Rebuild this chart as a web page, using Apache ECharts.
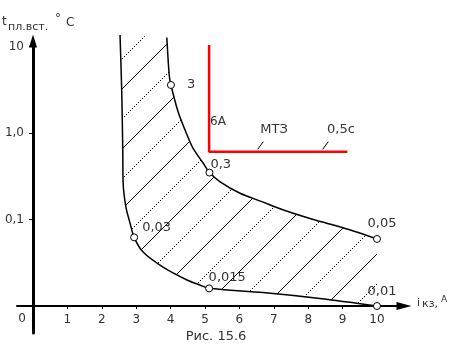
<!DOCTYPE html>
<html><head><meta charset="utf-8">
<script src="https://cdn.jsdelivr.net/npm/echarts@6/dist/echarts.min.js"></script>
<style>html,body{margin:0;padding:0;background:#fff}#c{width:459px;height:348px}</style>
</head><body><div id="c"></div>
<script>
// ---- data ----
const xTickValues = [1, 2, 3, 4, 5, 6, 7, 8, 9, 10];
const yTickValues = [0.1, 1, 10];
const yTickLabels = ['0,1', '1,0', '10'];

// left / lower boundary of the band (from top down to the right end)
const leftX = [2.53, 2.58, 2.61, 2.62, 2.70, 2.82, 2.94, 3.20, 3.78, 4.48, 4.85, 5.12, 6.69, 8.34, 10.0];
const leftY = [13.6, 2.98, 0.60, 0.264, 0.140, 0.0912, 0.0622, 0.0421, 0.0282, 0.0200, 0.0175, 0.0160, 0.0143, 0.0122, 0.01];

// right / upper boundary of the band
const rightX = [3.89, 3.96, 4.01, 4.22, 4.48, 4.65, 4.95, 5.13, 5.44, 6.02, 6.65, 7.28, 8.05, 8.73, 9.31, 10.0];
const rightY = [12.7, 4.69, 3.59, 1.75, 0.949, 0.671, 0.447, 0.349, 0.273, 0.201, 0.161, 0.129, 0.103, 0.0863, 0.0736, 0.0596];

// marked points and their texts
const pointX = [4.01, 5.13, 10.0, 2.94, 5.12, 10.0];
const pointY = [3.59, 0.349, 0.0596, 0.0622, 0.0160, 0.01];
const pointLabels = ['3', '0,3', '0,05', '0,03', '0,015', '0,01'];

// МТЗ characteristic (red)
const mtzX = [5.12, 5.12, 9.14];
const mtzY = [10.4, 0.608, 0.608];

// ---- presentation ----
const FONT = 'DejaVu Sans';
const TXT = '#333';
const labelOffsets = [[12, 0], [-3, -7.5], [-13.5, -15], [4, -10], [-4.5, -11], [-13.5, -14]];

function pairs(xs, ys) { return xs.map((x, i) => [x, ys[i]]); }

function makeHatch() {
  const P = 60;
  const c = document.createElement('canvas');
  c.width = P; c.height = P;
  const g = c.getContext('2d');
  g.fillStyle = '#000';
  for (let i = 0; i < P; i++) {
    const ys = (((30 - i) % P) + P) % P;   // solid diagonal
    g.fillRect(i, ys, 1, 1);
    if (i % 2 === 0) {                      // dotted diagonal
      const yd = (((P - i) % P) + P) % P;
      g.fillRect(i, yd, 1, 1);
    }
  }
  return c;
}
const hatch = makeHatch();

function txt(text, x, y, size, align, extra) {
  return Object.assign({
    type: 'text', x: x, y: y, silent: true,
    style: { text: text, font: size + 'px "' + FONT + '"', fill: TXT,
             align: align || 'left', textAlign: align || 'left',
             verticalAlign: 'middle', textVerticalAlign: 'middle' }
  }, extra || {});
}

const chart = echarts.init(document.getElementById('c'), null, { renderer: 'canvas' });
chart.setOption({
  animation: false,
  backgroundColor: '#fff',
  grid: { left: 17, right: 55, top: 41, bottom: 15, containLabel: false, outerBoundsMode: 'none' },
  xAxis: {
    type: 'value', min: -0.465, max: 10.785, offset: -27,
    axisLine: { show: true, onZero: false, symbol: ['none', 'triangle'], symbolSize: [8, 15],
                lineStyle: { color: '#000', width: 2 } },
    axisTick: { show: true, length: 3, customValues: xTickValues, lineStyle: { color: '#000', width: 1 } },
    axisLabel: { show: true, customValues: xTickValues, margin: 8, fontFamily: FONT, fontSize: 12, color: TXT },
    splitLine: { show: false }
  },
  yAxis: {
    type: 'log', min: 0.004877, max: 11.58, logBase: 10, offset: -16,
    axisLine: { show: true, onZero: false, symbol: ['none', 'triangle'], symbolSize: [8, 13],
                lineStyle: { color: '#000', width: 3 } },
    axisTick: { show: true, length: 4, customValues: yTickValues, lineStyle: { color: '#000', width: 1 } },
    axisLabel: { show: true, customValues: yTickValues, margin: 9, fontFamily: FONT, fontSize: 12, color: TXT,
                 formatter: function (v) {
                   for (let i = 0; i < yTickValues.length; i++) {
                     if (Math.abs(v - yTickValues[i]) < 1e-9 * yTickValues[i] + 1e-12) return yTickLabels[i];
                   }
                   return '';
                 } },
    splitLine: { show: false },
    minorTick: { show: false }
  },
  series: [
    {
      type: 'custom', coordinateSystem: 'cartesian2d', silent: true, z: 1,
      data: [[5, 1]],
      renderItem: function (params, api) {
        const pts = [];
        for (let i = 0; i < rightX.length; i++) pts.push(api.coord([rightX[i], rightY[i]]));
        for (let i = leftX.length - 1; i >= 0; i--) pts.push(api.coord([leftX[i], leftY[i]]));
        return { type: 'polygon', shape: { points: pts },
                 style: { fill: { image: hatch, repeat: 'repeat' }, stroke: null } };
      }
    },
    {
      type: 'line', data: pairs(leftX, leftY), smooth: 0.3, showSymbol: false, clip: false, silent: true, z: 2,
      lineStyle: { color: '#000', width: 1.5 }
    },
    {
      type: 'line', data: pairs(rightX, rightY), smooth: 0.3, showSymbol: false, clip: false, silent: true, z: 2,
      lineStyle: { color: '#000', width: 1.5 }
    },
    {
      type: 'line', data: pairs(mtzX, mtzY), smooth: false, showSymbol: false, clip: false, silent: true, z: 2,
      lineStyle: { color: '#ff0000', width: 2.5 }
    },
    {
      type: 'scatter', z: 3, silent: true, clip: false,
      symbol: 'circle', symbolSize: 7,
      itemStyle: { color: '#fff', borderColor: '#000', borderWidth: 1, opacity: 1 },
      label: { show: true, position: 'right', distance: 0, fontFamily: FONT, fontSize: 13, color: TXT },
      data: pointX.map((x, i) => ({
        value: [x, pointY[i]],
        label: { formatter: pointLabels[i], offset: labelOffsets[i] }
      }))
    }
  ],
  graphic: [
    txt('0', 22, 319, 12, 'center'),
    txt('t', 2, 21.5, 12),
    txt('пл.вст.', 8, 27, 11),
    txt('°', 55, 19, 12),
    txt('С', 66, 23, 12),
    txt('i', 417, 303, 11),
    txt('кз,', 422, 304.5, 11),
    txt('А', 441, 300, 9),
    txt('Рис. 15.6', 216, 337, 13, 'center'),
    txt('6А', 210, 122, 12),
    txt('МТЗ', 274, 130, 13, 'center'),
    txt('0,5с', 341, 130, 13, 'center'),
    { type: 'line', silent: true, shape: { x1: 263.3, y1: 141.7, x2: 257.7, y2: 149.3 }, style: { stroke: '#000', lineWidth: 1 } },
    { type: 'line', silent: true, shape: { x1: 328.3, y1: 141.7, x2: 322.7, y2: 149.3 }, style: { stroke: '#000', lineWidth: 1 } }
  ]
});
</script>
</body></html>
